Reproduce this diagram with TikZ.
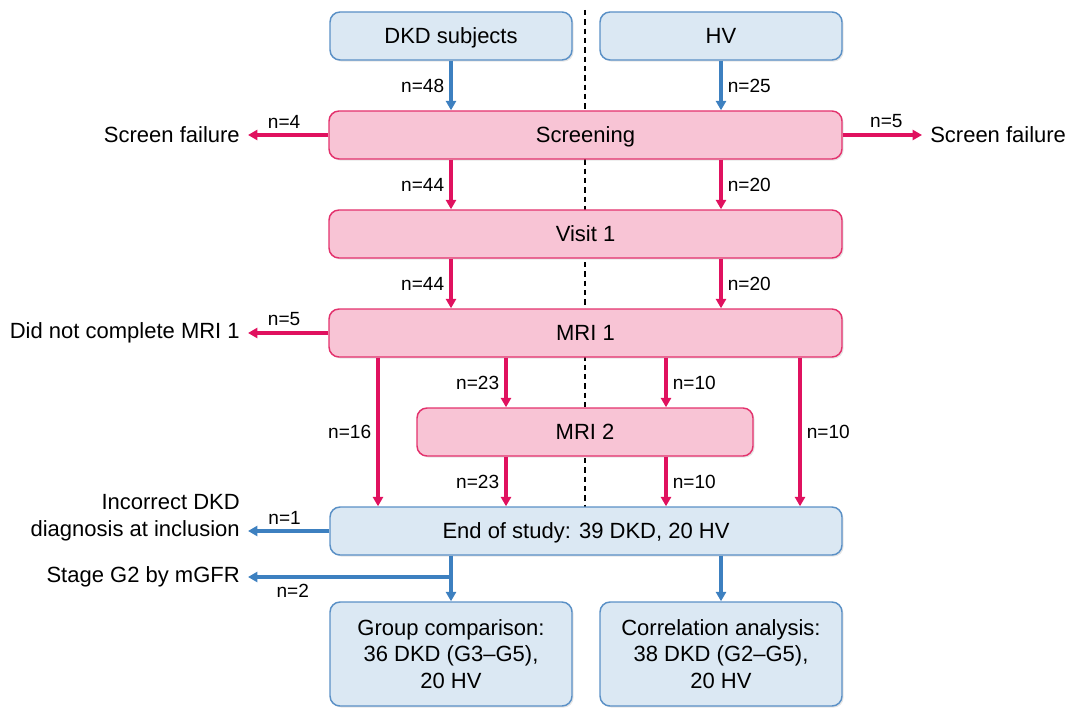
\documentclass[tikz,border=0pt]{standalone}
\usepackage{fontspec}
\setmainfont{Liberation Sans}
\usetikzlibrary{calc,positioning,arrows.meta,shadows}

\definecolor{bxfill}{HTML}{DBE8F3}
\definecolor{bxline}{HTML}{5A90C6}
\definecolor{bxarrow}{HTML}{3D80C0}
\definecolor{pkfill}{HTML}{F8C4D5}
\definecolor{pkline}{HTML}{E3326D}
\definecolor{pkarrow}{HTML}{E0115F}

\tikzset{
    stage/.style={draw,line width=1.1pt,rounded corners=7.5pt,align=center,
        font=\fontsize{16.5}{20}\selectfont,inner sep=0pt,
        drop shadow={shadow xshift=1.2pt,shadow yshift=-1.2pt,opacity=0.2}},
    oneline/.style={text height=15pt,text depth=3.2pt},
    bluebox/.style={stage,fill=bxfill,draw=bxline},
    pinkbox/.style={stage,fill=pkfill,draw=pkline},
    sidetext/.style={font=\fontsize{16.5}{20}\selectfont,align=right,inner sep=0pt},
    cnt/.style={font=\fontsize{14.3}{16}\selectfont,inner sep=4pt},
    bluearr/.style={draw=bxarrow,line width=2.3pt,-{Triangle[length=7pt,width=7.5pt]}},
    pinkarr/.style={draw=pkarrow,line width=2.3pt,-{Triangle[length=7pt,width=7.5pt]}}
}

\begin{document}
\begin{tikzpicture}[x=0.75pt,y=-0.75pt]
    \useasboundingbox (0,0) rectangle (1069,709);

    % dividing line
    \draw [line width=1.1pt,dash pattern=on 4pt off 3pt] (585,10) -- (585,507);

    % boxes
    \node (dkd)  [bluebox,oneline,minimum width=181.5pt,minimum height=36pt] at (451,36)    {DKD subjects};
    \node (hv)   [bluebox,oneline,minimum width=181.5pt,minimum height=36pt] at (721,36)    {HV};
    \node (scr)  [pinkbox,oneline,minimum width=384.75pt,minimum height=36pt] at (585.5,135) {Screening};
    \node (vis)  [pinkbox,oneline,minimum width=384.75pt,minimum height=36pt] at (585.5,234) {Visit 1};
    \node (mri1) [pinkbox,oneline,minimum width=384.75pt,minimum height=36pt] at (585.5,333) {MRI 1};
    \node (mri2) [pinkbox,oneline,minimum width=252pt,minimum height=36pt]    at (585,432)   {MRI 2};
    \node (end)  [bluebox,oneline,minimum width=384pt,minimum height=36pt]    at (586,531)   {End of study: 39 DKD, 20 HV};
    \node (grp)  [bluebox,minimum width=181.5pt,minimum height=78pt] at (451,654)   {Group comparison:\\36 DKD (G3--G5),\\20 HV};
    \node (cor)  [bluebox,minimum width=181.5pt,minimum height=78pt] at (721,654)   {Correlation analysis:\\38 DKD (G2--G5),\\20 HV};

    % side texts
    \node (sfl) [sidetext,anchor=east] at (240,135) {Screen failure};
    \node (sfr) [sidetext,anchor=west] at (930,135) {Screen failure};
    \node (dnc) [sidetext,anchor=east] at (240,333) {Did not complete MRI 1};
    \node (inc) [sidetext,anchor=east] at (240,518) {Incorrect DKD\\diagnosis at inclusion};
    \node (stg) [sidetext,anchor=east] at (240,577) {Stage G2 by mGFR};

    % columns
    \coordinate (lcol) at (378,0);
    \coordinate (rcol) at (800,0);
    \coordinate (mcl)  at (506,0);
    \coordinate (mcr)  at (666,0);
    \coordinate (br)   at (451,577);

    % connectors
    \draw [bluearr] (dkd) -- node[cnt,left]{n=48} (dkd |- scr.north);
    \draw [bluearr] (hv)  -- node[cnt,right]{n=25} (hv |- scr.north);
    \draw [pinkarr,shorten >=6pt] (scr.west) -- node[cnt,above]{n=4} (sfl.east);
    \draw [pinkarr,shorten >=6pt] (scr.east) -- node[cnt,above]{n=5} (sfr.west);
    \draw [pinkarr] (scr.south -| dkd) -- node[cnt,left]{n=44} (vis.north -| dkd);
    \draw [pinkarr] (scr.south -| hv)  -- node[cnt,right]{n=20} (vis.north -| hv);
    \draw [pinkarr] (vis.south -| dkd) -- node[cnt,left]{n=44} (mri1.north -| dkd);
    \draw [pinkarr] (vis.south -| hv)  -- node[cnt,right]{n=20} (mri1.north -| hv);
    \draw [pinkarr,shorten >=6pt] (mri1.west) -- node[cnt,above]{n=5} (dnc.east);
    \draw [pinkarr] (mri1.south -| lcol) -- node[cnt,left]{n=16} (end.north -| lcol);
    \draw [pinkarr] (mri1.south -| rcol) -- node[cnt,right]{n=10} (end.north -| rcol);
    \draw [pinkarr] (mri1.south -| mcl) -- node[cnt,left]{n=23} (mri2.north -| mcl);
    \draw [pinkarr] (mri1.south -| mcr) -- node[cnt,right]{n=10} (mri2.north -| mcr);
    \draw [pinkarr] (mri2.south -| mcl) -- node[cnt,left]{n=23} (end.north -| mcl);
    \draw [pinkarr] (mri2.south -| mcr) -- node[cnt,right]{n=10} (end.north -| mcr);
    \draw [bluearr,shorten >=6pt] (end.west) -- node[cnt,above]{n=1} (end.west -| inc.east);
    \draw [bluearr] (end.south -| dkd) -- (grp.north);
    \draw [bluearr] (end.south -| hv) -- (cor.north);
    \draw [bluearr,shorten >=6pt] (br) -- node[cnt,below,pos=0.75]{n=2} (stg.east);
\end{tikzpicture}
\end{document}
